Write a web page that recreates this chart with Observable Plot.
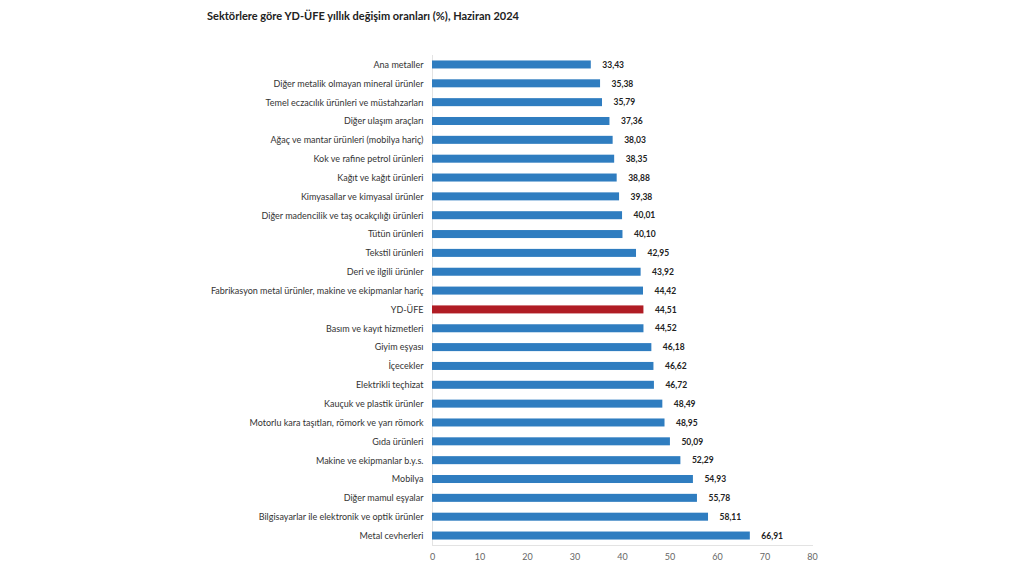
<!DOCTYPE html>
<html><head><meta charset="utf-8">
<script src="https://cdn.jsdelivr.net/npm/d3@7"></script>
<script src="https://cdn.jsdelivr.net/npm/@observablehq/plot@0.6"></script>
<style>
body{margin:0;background:#fff;width:1024px;height:576px;overflow:hidden}
#title{height:40px;box-sizing:border-box;padding-left:207px;padding-top:9px;font:bold 11px Lato, sans-serif;color:#222}
#chart svg{display:block}
</style></head><body>
<div id="title">Sektörlere göre YD-ÜFE yıllık değişim oranları (%), Haziran 2024</div>
<div id="chart"></div>
<script>
const categories = [
  "Ana metaller",
  "Diğer metalik olmayan mineral ürünler",
  "Temel eczacılık ürünleri ve müstahzarları",
  "Diğer ulaşım araçları",
  "Ağaç ve mantar ürünleri (mobilya hariç)",
  "Kok ve rafine petrol ürünleri",
  "Kağıt ve kağıt ürünleri",
  "Kimyasallar ve kimyasal ürünler",
  "Diğer madencilik ve taş ocakçılığı ürünleri",
  "Tütün ürünleri",
  "Tekstil ürünleri",
  "Deri ve ilgili ürünler",
  "Fabrikasyon metal ürünler, makine ve ekipmanlar hariç",
  "YD-ÜFE",
  "Basım ve kayıt hizmetleri",
  "Giyim eşyası",
  "İçecekler",
  "Elektrikli teçhizat",
  "Kauçuk ve plastik ürünler",
  "Motorlu kara taşıtları, römork ve yarı römork",
  "Gıda ürünleri",
  "Makine ve ekipmanlar b.y.s.",
  "Mobilya",
  "Diğer mamul eşyalar",
  "Bilgisayarlar ile elektronik ve optik ürünler",
  "Metal cevherleri"
];
const values = [33.43, 35.38, 35.79, 37.36, 38.03, 38.35, 38.88, 39.38, 40.01, 40.10, 42.95, 43.92, 44.42, 44.51, 44.52, 46.18, 46.62, 46.72, 48.49, 48.95, 50.09, 52.29, 54.93, 55.78, 58.11, 66.91];
const highlight = "YD-ÜFE";
const xTicks = [0, 10, 20, 30, 40, 50, 60, 70, 80];

const data = categories.map((c, i) => ({category: c, value: values[i]}));
const fmt = v => v.toFixed(2).replace(".", ",");

const plot = Plot.plot({
  width: 1024,
  height: 536,
  marginLeft: 432,
  marginRight: 212,
  marginTop: 15,
  marginBottom: 31,
  style: {fontFamily: "Lato, sans-serif", fontSize: "9px", background: "#fff"},
  x: {domain: [0, 80], ticks: xTicks, label: null},
  y: {domain: categories, paddingInner: 0.575, paddingOuter: 0.29, round: false, label: null},
  marks: [
    Plot.frame({anchor: "left", stroke: "#e3e3e3"}),
    Plot.frame({anchor: "bottom", stroke: "#e3e3e3"}),
    Plot.barX(data, {x: "value", y: "category", fill: d => d.category === highlight ? "#b01c24" : "#2f7dc0"}),
    Plot.text(data, {x: "value", y: "category", text: d => fmt(d.value), dx: 11, textAnchor: "start", fontWeight: "bold", fontSize: 8.5, fill: "#222"}),
    Plot.axisY({tickSize: 0, tickPadding: 9, fill: "#333", fontSize: 9}),
    Plot.axisX({ticks: xTicks, tickSize: 0, tickPadding: 8, fill: "#666", fontSize: 9, tickFormat: d => String(d)})
  ]
});
document.getElementById("chart").appendChild(plot);
</script>
</body></html>
